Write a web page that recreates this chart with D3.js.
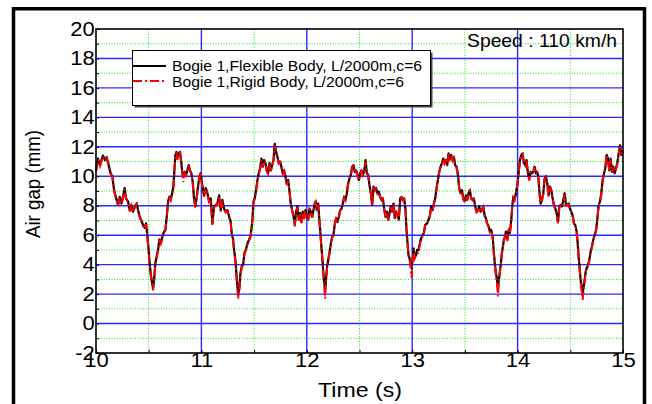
<!DOCTYPE html>
<html>
<head>
<meta charset="utf-8">
<style>
body { margin: 0; background: #fff; }
text { font-family: "Liberation Sans", Arial, sans-serif; fill: #000; }
</style>
</head>
<body>
<svg id="chart" width="652" height="404"></svg>
<script src="https://cdnjs.cloudflare.com/ajax/libs/d3/7.8.5/d3.min.js"></script>
<script>

// time (s)
var time = [
  10.000,10.019,10.038,10.066,10.085,10.101,10.120,10.139,10.155,10.171,
  10.184,10.196,10.209,10.225,10.241,10.259,10.272,10.285,10.304,10.320,
  10.335,10.351,10.367,10.386,10.402,10.415,10.430,10.446,10.462,10.475,
  10.487,10.497,10.509,10.519,10.532,10.541,10.551,10.563,10.576,10.589,
  10.601,10.614,10.630,10.646,10.658,10.671,10.684,10.696,10.709,10.722,
  10.734,10.744,10.753,10.763,10.772,10.785,10.797,10.807,10.820,10.829,
  10.842,10.854,10.867,10.880,10.892,10.905,10.918,10.930,10.943,10.956,
  10.968,10.981,10.994,11.006,11.025,11.041,11.057,11.073,11.089,11.104,
  11.120,11.136,11.152,11.168,11.184,11.199,11.215,11.231,11.247,11.263,
  11.278,11.288,11.301,11.310,11.323,11.332,11.342,11.351,11.361,11.370,
  11.383,11.396,11.408,11.421,11.437,11.453,11.468,11.484,11.494,11.506,
  11.519,11.532,11.544,11.557,11.570,11.582,11.595,11.608,11.620,11.633,
  11.646,11.658,11.671,11.684,11.696,11.709,11.722,11.734,11.747,11.759,
  11.772,11.785,11.797,11.810,11.823,11.835,11.848,11.861,11.873,11.886,
  11.899,11.911,11.924,11.937,11.949,11.962,11.975,11.987,12.000,12.013,
  12.025,12.038,12.051,12.063,12.076,12.085,12.095,12.108,12.117,12.127,
  12.136,12.146,12.155,12.165,12.174,12.184,12.193,12.203,12.215,12.228,
  12.241,12.253,12.266,12.278,12.291,12.304,12.316,12.329,12.342,12.354,
  12.367,12.380,12.392,12.405,12.418,12.430,12.443,12.456,12.468,12.481,
  12.494,12.506,12.519,12.532,12.544,12.557,12.570,12.582,12.595,12.608,
  12.620,12.633,12.646,12.658,12.671,12.684,12.696,12.709,12.722,12.734,
  12.747,12.759,12.772,12.785,12.797,12.810,12.823,12.835,12.848,12.861,
  12.873,12.886,12.899,12.911,12.924,12.937,12.946,12.956,12.965,12.975,
  12.984,12.994,13.003,13.013,13.022,13.035,13.047,13.060,13.073,13.085,
  13.098,13.111,13.123,13.142,13.155,13.168,13.180,13.193,13.206,13.218,
  13.231,13.244,13.256,13.269,13.282,13.294,13.307,13.320,13.332,13.345,
  13.358,13.370,13.383,13.396,13.408,13.421,13.434,13.446,13.459,13.472,
  13.484,13.497,13.509,13.522,13.535,13.547,13.560,13.573,13.585,13.598,
  13.611,13.623,13.636,13.649,13.661,13.674,13.687,13.699,13.712,13.725,
  13.737,13.750,13.763,13.775,13.785,13.794,13.804,13.813,13.823,13.832,
  13.842,13.851,13.861,13.870,13.880,13.889,13.902,13.915,13.927,13.940,
  13.949,13.959,13.972,13.984,13.997,14.009,14.022,14.035,14.047,14.060,
  14.073,14.085,14.098,14.111,14.123,14.136,14.149,14.161,14.174,14.186,
  14.196,14.206,14.218,14.231,14.244,14.256,14.269,14.282,14.294,14.307,
  14.320,14.332,14.345,14.358,14.370,14.383,14.396,14.408,14.421,14.434,
  14.446,14.459,14.472,14.484,14.497,14.509,14.522,14.535,14.547,14.560,
  14.570,14.579,14.589,14.598,14.608,14.617,14.627,14.636,14.646,14.655,
  14.668,14.680,14.693,14.706,14.718,14.731,14.744,14.756,14.769,14.782,
  14.794,14.807,14.820,14.832,14.845,14.858,14.870,14.883,14.896,14.908,
  14.921,14.934,14.946,14.959,14.972,14.984,15.000
];

// Bogie 1, flexible body (black)
var flexible = [
  10.4,11.2,10.75,11.4,11.1,11.3,10.75,10.2,10.0,9.1,
  8.7,8.4,8.05,8.6,8.15,8.7,9.2,8.5,8.3,7.7,
  8.05,7.6,7.9,8.15,7.6,7.25,7.0,6.7,6.5,6.8,
  6.0,5.2,4.1,3.4,2.75,2.4,2.95,4.1,4.55,5.0,
  5.7,5.45,5.9,6.25,6.35,7.25,8.3,8.6,8.4,8.85,
  9.3,10.4,11.45,11.65,11.2,11.55,11.65,11.1,10.2,10.0,
  10.3,10.1,10.4,10.75,10.4,10.2,9.6,8.5,7.95,8.6,
  9.3,10.0,10.2,9.5,8.7,9.2,8.85,8.3,8.5,6.8,
  7.95,8.05,8.15,8.7,7.7,8.4,7.8,7.6,7.7,7.25,
  6.9,6.1,5.7,5.0,4.3,3.4,2.5,2.05,2.5,3.4,
  3.9,4.0,4.8,5.0,5.45,5.7,6.0,7.05,8.3,8.5,
  9.1,9.75,10.2,10.55,11.2,10.65,11.1,10.9,10.4,10.2,
  10.9,10.4,10.75,11.1,12.2,11.65,11.3,10.9,11.0,10.65,
  10.2,10.4,10.0,9.5,9.75,9.05,8.15,7.7,7.35,6.7,
  7.6,7.95,7.05,7.5,6.9,7.6,7.15,7.7,7.35,7.05,
  7.8,7.6,7.25,7.7,8.15,8.3,7.7,8.15,7.25,6.35,
  5.45,4.55,3.65,2.75,2.3,3.2,3.9,4.3,4.8,5.45,
  5.9,6.0,6.8,7.15,6.9,7.25,7.7,7.8,8.15,8.6,
  8.4,8.85,9.5,9.85,10.1,10.65,10.75,10.3,10.4,10.1,
  9.75,10.2,10.4,10.1,10.3,11.1,10.2,10.1,9.4,8.85,
  8.05,9.3,9.05,9.2,8.85,8.95,8.6,8.4,8.5,7.8,
  7.25,7.6,7.05,7.5,7.95,7.6,8.15,7.15,7.6,7.35,
  7.05,8.5,8.6,8.4,8.5,7.7,6.35,5.45,4.65,4.45,
  4.0,3.75,4.3,5.1,4.45,4.65,5.0,5.0,5.45,5.8,
  6.0,6.15,6.7,6.8,7.05,7.35,7.95,7.7,8.15,8.5,
  9.2,9.75,10.3,10.65,10.9,11.2,10.9,11.1,10.75,11.55,
  11.2,11.45,11.1,11.3,10.75,10.65,10.1,9.2,8.85,9.05,
  8.5,8.3,8.7,8.4,8.85,9.05,8.5,8.4,8.5,7.95,
  7.6,7.7,7.95,7.6,7.7,7.95,7.35,7.15,6.8,6.6,
  6.25,6.35,5.9,4.8,4.0,3.45,3.0,2.45,3.0,3.55,
  4.1,4.8,5.25,5.7,5.9,6.25,5.7,6.35,6.15,7.05,
  7.95,8.6,8.4,8.85,9.4,10.2,11.1,11.45,11.55,10.9,
  10.75,11.1,10.2,9.85,10.3,10.2,10.3,10.65,10.2,10.3,
  10.0,9.05,8.15,8.4,8.85,9.85,10.0,9.5,8.7,9.3,
  9.05,8.5,8.05,7.8,7.5,6.9,7.95,8.05,7.95,8.4,
  8.85,8.05,8.05,8.15,7.8,7.6,7.35,6.8,6.7,6.25,
  5.45,4.55,3.75,2.95,2.5,2.05,2.5,2.95,3.55,3.75,
  4.0,4.3,4.9,5.25,5.7,6.0,6.35,7.05,8.05,8.3,
  8.85,9.75,10.2,10.55,11.45,11.2,10.4,11.2,10.3,10.65,
  10.2,10.55,10.9,11.55,12.1,11.45,11.75
];

// Bogie 1, rigid body (red dash-dot)
var rigid = [
  10.35,11.15,10.7,11.35,11.1,11.25,10.7,10.15,9.95,9.0,
  8.65,8.35,8.0,8.55,8.1,8.65,9.1,8.45,8.25,7.6,
  8.0,7.55,7.85,8.1,7.5,7.2,6.95,6.6,6.45,6.75,
  5.9,5.1,4.0,3.3,2.6,2.25,2.85,4.0,4.5,4.95,
  5.6,5.4,5.85,6.2,6.3,7.2,8.2,8.55,8.35,8.8,
  9.2,10.3,11.4,11.6,11.1,11.5,11.6,11.0,10.1,9.6,
  10.2,10.05,10.35,10.7,10.35,10.15,9.5,8.4,7.9,8.55,
  9.2,9.95,10.3,9.4,8.6,9.15,8.8,8.25,8.45,6.7,
  7.9,8.0,8.1,8.65,7.6,8.35,7.75,7.55,7.65,7.2,
  6.8,6.0,5.6,4.9,4.2,3.2,2.2,1.7,2.3,3.3,
  3.8,3.95,4.7,4.95,5.4,5.65,5.95,7.0,8.2,8.45,
  9.0,9.7,10.1,10.5,11.1,10.6,11.05,10.85,10.3,10.15,
  10.85,10.3,10.7,11.05,12.1,11.6,11.25,10.85,10.95,10.6,
  10.15,10.35,9.95,9.4,9.7,9.0,8.1,7.65,7.3,6.6,
  7.55,7.9,7.0,7.45,6.8,7.55,7.1,7.65,7.3,7.0,
  7.75,7.55,7.2,7.65,8.1,8.25,7.65,8.1,7.2,6.3,
  5.4,4.5,3.5,2.5,1.7,3.0,3.8,4.25,4.75,5.4,
  5.85,5.95,6.75,7.1,6.85,7.2,7.65,7.75,8.1,8.55,
  8.35,8.8,9.45,9.8,10.05,10.6,10.7,10.25,10.35,10.05,
  9.7,10.15,10.35,10.05,10.25,11.0,10.15,10.05,9.35,8.8,
  8.0,9.25,9.0,9.15,8.8,8.9,8.55,8.35,8.45,7.75,
  7.2,7.55,7.0,7.45,7.9,7.55,8.1,7.1,7.55,7.3,
  7.0,8.45,8.55,8.35,8.45,7.65,6.3,5.4,4.6,4.35,
  3.9,3.1,4.2,5.05,4.4,4.6,4.6,4.95,5.4,5.75,
  5.95,6.1,6.65,6.75,7.0,7.3,7.9,7.65,8.1,8.45,
  9.15,9.7,10.25,10.6,10.85,11.15,10.85,11.05,10.7,11.5,
  11.15,11.4,11.05,11.25,10.7,10.6,10.05,9.15,8.8,9.0,
  8.45,8.25,8.65,8.35,8.8,9.0,8.45,8.35,8.45,7.9,
  7.55,7.65,7.9,7.55,7.65,7.9,7.3,7.1,6.75,6.55,
  6.2,6.3,5.8,4.7,3.9,3.3,2.7,1.85,2.8,3.5,
  4.0,4.75,5.2,5.65,5.85,6.2,5.6,6.3,6.1,7.0,
  7.9,8.55,8.35,8.8,9.35,10.15,11.05,11.4,11.5,10.85,
  10.7,11.05,10.15,9.7,10.25,10.15,10.25,10.6,10.15,10.25,
  9.95,9.0,8.0,8.35,8.8,9.8,9.95,9.45,8.6,9.25,
  9.0,8.45,8.0,7.75,7.45,6.8,7.9,8.0,7.9,8.35,
  8.8,8.0,8.0,8.1,7.75,7.55,7.3,6.75,6.65,6.2,
  5.4,4.5,3.65,2.8,2.2,1.6,2.3,2.85,3.5,3.7,
  3.95,4.25,4.85,5.2,5.65,5.95,6.3,7.0,8.0,8.25,
  8.8,9.7,10.15,10.5,11.4,11.15,10.35,11.15,10.25,10.6,
  10.15,10.5,10.85,11.5,12.0,11.4,11.7
];

var xTicks = [10, 11, 12, 13, 14, 15];
var xMinor = [10.5, 11.5, 12.5, 13.5, 14.5];
var yTicks = [-2, 0, 2, 4, 6, 8, 10, 12, 14, 16, 18, 20];
var yMinor = [-1, 1, 3, 5, 7, 9, 11, 13, 15, 17, 19];
var legendLabels = ["Bogie 1,Flexible Body, L/2000m,c=6", "Bogie 1,Rigid Body, L/2000m,c=6"];
var speedLabel = "Speed : 110 km/h";

var margin = {top: 29, right: 29, bottom: 51, left: 96},
    width = 652 - margin.left - margin.right,
    height = 404 - margin.top - margin.bottom;

var svg = d3.select("#chart");

// outer frame (bottom edge is cut off in the picture)
svg.append("rect")
  .attr("x", 13.5).attr("y", 8.75)
  .attr("width", 631).attr("height", 420)
  .attr("fill", "none").attr("stroke", "#000").attr("stroke-width", 3.5);

var g = svg.append("g").attr("transform", "translate(" + margin.left + "," + margin.top + ")");

var x = d3.scaleLinear().domain([10, 15]).range([0, width]);
var y = d3.scaleLinear().domain([-2, 20]).range([height, 0]);

// minor grid (green dotted)
g.append("g").selectAll("line").data(xMinor).enter().append("line")
  .attr("x1", d => x(d)).attr("x2", d => x(d)).attr("y1", 0).attr("y2", height)
  .attr("stroke", "#1bdf1b").attr("stroke-width", 1).attr("stroke-dasharray", "1,1.6");
g.append("g").selectAll("line").data(yMinor).enter().append("line")
  .attr("y1", d => y(d)).attr("y2", d => y(d)).attr("x1", 0).attr("x2", width)
  .attr("stroke", "#1bdf1b").attr("stroke-width", 1).attr("stroke-dasharray", "1,1.6");

// major grid (blue)
g.append("g").selectAll("line").data(xTicks.slice(1, -1)).enter().append("line")
  .attr("x1", d => x(d)).attr("x2", d => x(d)).attr("y1", 0).attr("y2", height)
  .attr("stroke", "#2a2aff").attr("stroke-width", 1.4);
g.append("g").selectAll("line").data(yTicks.slice(1, -1)).enter().append("line")
  .attr("y1", d => y(d)).attr("y2", d => y(d)).attr("x1", 0).attr("x2", width)
  .attr("stroke", "#2a2aff").attr("stroke-width", 1.4);

// series
var pts = time.map((t, i) => ({t: t, f: flexible[i], r: rigid[i]}));
g.append("path").datum(pts)
  .attr("fill", "none").attr("stroke", "#000").attr("stroke-width", 2.2)
  .attr("stroke-linejoin", "round")
  .attr("d", d3.line().x(d => x(d.t)).y(d => y(d.f)));
g.append("path").datum(pts)
  .attr("fill", "none").attr("stroke", "#ff0000").attr("stroke-width", 2)
  .attr("stroke-dasharray", "9,3,2,3")
  .attr("d", d3.line().x(d => x(d.t)).y(d => y(d.r)));

// plot frame
g.append("rect").attr("width", width).attr("height", height)
  .attr("fill", "none").attr("stroke", "#000").attr("stroke-width", 1.6);

// small inner ticks
g.append("g").call(d3.axisLeft(y).tickValues(yTicks.concat(yMinor)).tickSize(-3).tickFormat(""))
  .call(a => a.select(".domain").remove());
g.append("g").attr("transform", "translate(0," + height + ")")
  .call(d3.axisBottom(x).tickValues(xTicks.concat(xMinor)).tickSize(-3).tickFormat(""))
  .call(a => a.select(".domain").remove());

// tick labels (plain hyphen for negatives, as in the original)
var plain = d => String(d);
g.append("g")
  .call(d3.axisLeft(y).tickValues(yTicks).tickSize(0).tickPadding(1).tickFormat(plain))
  .call(a => a.select(".domain").remove())
  .call(a => a.selectAll("text")
    .attr("font-family", "Liberation Sans, Arial, sans-serif")
    .attr("font-size", "19.5px").attr("fill", "#000")
    .attr("transform", "scale(1.13,1)"));

g.append("g").attr("transform", "translate(0," + height + ")")
  .call(d3.axisBottom(x).tickValues(xTicks).tickSize(0).tickPadding(0.2).tickFormat(plain))
  .call(a => a.select(".domain").remove())
  .call(a => a.selectAll("text")
    .attr("font-family", "Liberation Sans, Arial, sans-serif")
    .attr("font-size", "19.5px").attr("fill", "#000")
    .attr("transform", "scale(1.13,1)"));

// axis titles
svg.append("text")
  .attr("transform", "translate(40,184) rotate(-90)")
  .attr("text-anchor", "middle").attr("font-size", "20px")
  .attr("textLength", 108).attr("lengthAdjust", "spacingAndGlyphs")
  .text("Air gap (mm)");
svg.append("text")
  .attr("x", 318).attr("y", 397)
  .attr("font-size", "21px")
  .attr("textLength", 84).attr("lengthAdjust", "spacingAndGlyphs")
  .text("Time (s)");

// speed note
svg.append("text")
  .attr("x", 467).attr("y", 47)
  .attr("font-size", "18.5px")
  .attr("textLength", 150).attr("lengthAdjust", "spacingAndGlyphs")
  .text(speedLabel);

// legend
var lg = svg.append("g");
lg.append("rect").attr("x", 134.5).attr("y", 52.5).attr("width", 298).attr("height", 55).attr("fill", "#444");
lg.append("rect").attr("x", 132.5).attr("y", 50.5).attr("width", 298).attr("height", 55)
  .attr("fill", "#fff").attr("stroke", "#000").attr("stroke-width", 1);
lg.append("line").attr("x1", 133).attr("x2", 166).attr("y1", 66).attr("y2", 66)
  .attr("stroke", "#000").attr("stroke-width", 2);
lg.append("line").attr("x1", 133).attr("x2", 166).attr("y1", 81).attr("y2", 81)
  .attr("stroke", "#ff0000").attr("stroke-width", 2).attr("stroke-dasharray", "9,3,2,3");
lg.append("text").attr("x", 172).attr("y", 71).attr("font-size", "14px")
  .attr("textLength", 250).attr("lengthAdjust", "spacingAndGlyphs").text(legendLabels[0]);
lg.append("text").attr("x", 172).attr("y", 87).attr("font-size", "14px")
  .attr("textLength", 232).attr("lengthAdjust", "spacingAndGlyphs").text(legendLabels[1]);

</script>
</body>
</html>
